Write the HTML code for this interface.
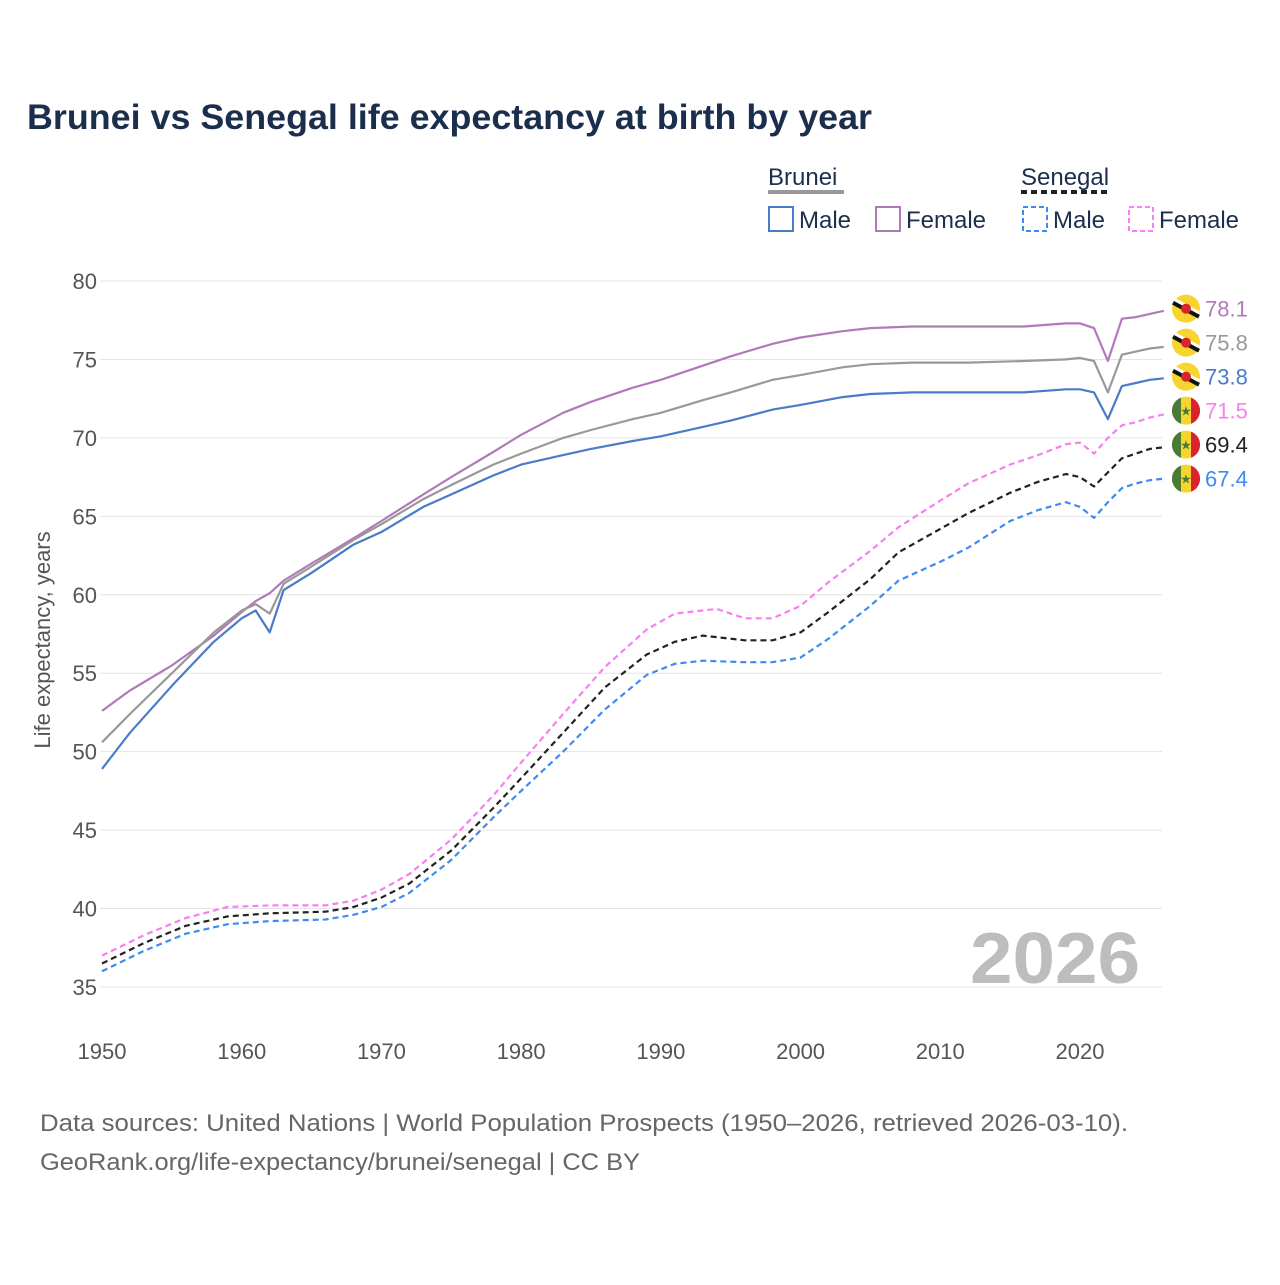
<!DOCTYPE html>
<html><head><meta charset="utf-8"><style>
body{margin:0;background:#fff;font-family:"Liberation Sans",sans-serif;}
svg text{font-family:"Liberation Sans",sans-serif;}
</style></head><body>
<svg id="c" width="1280" height="1280" xmlns="http://www.w3.org/2000/svg">
<text x="27" y="129" font-size="35" font-weight="bold" fill="#1b2f4d" textLength="845" lengthAdjust="spacingAndGlyphs">Brunei vs Senegal life expectancy at birth by year</text>
<g>
<text x="768" y="185" font-size="24" fill="#1b2f4d">Brunei</text>
<line x1="768" y1="192" x2="844" y2="192" stroke="#999" stroke-width="4"/>
<text x="1021" y="185" font-size="24" fill="#1b2f4d">Senegal</text>
<line x1="1021" y1="192" x2="1110" y2="192" stroke="#222" stroke-width="4" stroke-dasharray="6,4"/>
<rect x="769" y="207" width="24" height="24" fill="none" stroke="#4a7bc8" stroke-width="2"/>
<text x="799" y="228" font-size="24" fill="#1b2f4d">Male</text>
<rect x="876" y="207" width="24" height="24" fill="none" stroke="#b07ab8" stroke-width="2"/>
<text x="906" y="228" font-size="24" fill="#1b2f4d">Female</text>
<rect x="1023" y="207" width="24" height="24" fill="none" stroke="#3d8bf0" stroke-width="2" stroke-dasharray="5,3"/>
<text x="1053" y="228" font-size="24" fill="#1b2f4d">Male</text>
<rect x="1129" y="207" width="24" height="24" fill="none" stroke="#f77ff0" stroke-width="2" stroke-dasharray="5,3"/>
<text x="1159" y="228" font-size="24" fill="#1b2f4d">Female</text>
</g>
<text transform="translate(50,640) rotate(-90)" text-anchor="middle" font-size="22" fill="#555">Life expectancy, years</text>
<text x="970" y="983" font-size="72" font-weight="bold" fill="#bdbdbd" textLength="170" lengthAdjust="spacingAndGlyphs">2026</text>
<text x="40" y="1131" font-size="24" fill="#666" textLength="1088" lengthAdjust="spacingAndGlyphs">Data sources: United Nations | World Population Prospects (1950–2026, retrieved 2026-03-10).</text>
<text x="40" y="1170" font-size="24" fill="#666" textLength="600" lengthAdjust="spacingAndGlyphs">GeoRank.org/life-expectancy/brunei/senegal | CC BY</text>
<g id="grid"></g><g id="lines"></g><g id="ends"></g>
</svg>
<script>
const yTicks=[35,40,45,50,55,60,65,70,75,80];
const xTicks=[1950,1960,1970,1980,1990,2000,2010,2020];
const bfYears=[1950,1952,1955,1958,1960,1961,1962,1963,1965,1968,1970,1973,1975,1978,1980,1983,1985,1988,1990,1993,1995,1998,2000,2003,2005,2008,2012,2016,2019,2020,2021,2022,2023,2024,2025,2026];
const bfVals=[52.6,53.9,55.5,57.4,58.9,59.6,60.1,60.9,62.0,63.6,64.7,66.4,67.5,69.1,70.2,71.6,72.3,73.2,73.7,74.6,75.2,76.0,76.4,76.8,77.0,77.1,77.1,77.1,77.3,77.3,77.0,74.9,77.6,77.7,77.9,78.1];
const btYears=[1950,1952,1955,1958,1960,1961,1962,1963,1965,1968,1970,1973,1975,1978,1980,1983,1985,1988,1990,1993,1995,1998,2000,2003,2005,2008,2012,2016,2019,2020,2021,2022,2023,2024,2025,2026];
const btVals=[50.6,52.4,55.0,57.6,59.0,59.4,58.8,60.7,61.8,63.5,64.5,66.1,67.0,68.3,69.0,70.0,70.5,71.2,71.6,72.4,72.9,73.7,74.0,74.5,74.7,74.8,74.8,74.9,75.0,75.1,74.9,72.9,75.3,75.5,75.7,75.8];
const bmYears=[1950,1952,1955,1958,1960,1961,1962,1963,1965,1968,1970,1973,1975,1978,1980,1983,1985,1988,1990,1993,1995,1998,2000,2003,2005,2008,2012,2016,2019,2020,2021,2022,2023,2024,2025,2026];
const bmVals=[48.9,51.2,54.2,57.0,58.5,59.0,57.6,60.3,61.4,63.2,64.0,65.6,66.4,67.6,68.3,68.9,69.3,69.8,70.1,70.7,71.1,71.8,72.1,72.6,72.8,72.9,72.9,72.9,73.1,73.1,72.9,71.2,73.3,73.5,73.7,73.8];
const sfYears=[1950,1953,1956,1959,1962,1966,1968,1970,1972,1975,1978,1980,1983,1986,1989,1991,1994,1996,1998,2000,2002,2005,2007,2010,2012,2015,2017,2019,2020,2021,2022,2023,2024,2025,2026];
const sfVals=[37.0,38.3,39.4,40.1,40.2,40.2,40.5,41.2,42.2,44.4,47.2,49.3,52.4,55.4,57.8,58.8,59.1,58.5,58.5,59.3,60.8,62.8,64.3,66.0,67.1,68.3,68.9,69.6,69.7,69.0,70.0,70.8,71.0,71.3,71.5];
const stYears=[1950,1953,1956,1959,1962,1966,1968,1970,1972,1975,1978,1980,1983,1986,1989,1991,1993,1996,1998,2000,2002,2005,2007,2010,2012,2015,2017,2019,2020,2021,2022,2023,2024,2025,2026];
const stVals=[36.5,37.8,38.9,39.5,39.7,39.8,40.1,40.7,41.6,43.7,46.4,48.3,51.2,54.1,56.2,57.0,57.4,57.1,57.1,57.6,58.9,61.0,62.7,64.2,65.2,66.5,67.2,67.7,67.5,66.9,67.8,68.7,69.0,69.3,69.4];
const smYears=[1950,1953,1956,1959,1962,1966,1968,1970,1972,1975,1978,1980,1983,1986,1989,1991,1993,1996,1998,2000,2002,2005,2007,2010,2012,2015,2017,2019,2020,2021,2022,2023,2024,2025,2026];
const smVals=[36.0,37.3,38.4,39.0,39.2,39.3,39.6,40.1,41.0,43.1,45.8,47.5,50.0,52.7,54.9,55.6,55.8,55.7,55.7,56.0,57.2,59.3,60.9,62.1,63.0,64.7,65.4,65.9,65.6,64.9,65.9,66.8,67.1,67.3,67.4];
const endLabels=["78.1","75.8","73.8","71.5","69.4","67.4"];
const x=v=>102+(v-1950)*(978/70);
const y=v=>281+(80-v)*(706/45);
const NS="http://www.w3.org/2000/svg";
function mk(t,a,p){const e=document.createElementNS(NS,t);for(const k in a)e.setAttribute(k,a[k]);p.appendChild(e);return e;}
const grid=document.getElementById('grid');
yTicks.forEach(t=>{
 const l=mk('line',{x1:100,x2:1162,y1:y(t),y2:y(t),stroke:'#e4e4e4','stroke-width':1},grid);
 
 
 const tx=mk('text',{x:97,y:y(t)+8,'text-anchor':'end','font-size':22,fill:'#555'},grid);
 tx.textContent=t;
 
 
});
xTicks.forEach(t=>{
 const tx=mk('text',{x:x(t),y:1059,'text-anchor':'middle','font-size':22,fill:'#555'},grid);
 tx.textContent=t;
 
 
});
const series=[
 [bfYears,bfVals,'#b07ab8',null,'brunei-female-line'],
 [btYears,btVals,'#999999',null,'brunei-total-line'],
 [bmYears,bmVals,'#4a7bc8',null,'brunei-male-line'],
 [sfYears,sfVals,'#f77ff0','6,4','senegal-female-line'],
 [stYears,stVals,'#222222','6,4','senegal-total-line'],
 [smYears,smVals,'#3d8bf0','6,4','senegal-male-line']];
const lines=document.getElementById('lines'),ends=document.getElementById('ends');
// label positions: repel evenly from bottom
const lastY=series.map(s=>y(s[1][s[1].length-1]));
const labY=lastY.slice();
for(let i=labY.length-2;i>=0;i--){ if(labY[i]>labY[i+1]-34) labY[i]=labY[i+1]-34; }
series.forEach((s,i)=>{
 const pts=s[0].map((yr,j)=>x(yr).toFixed(1)+','+y(s[1][j]).toFixed(1)).join(' ');
 const a={points:pts,fill:'none',stroke:s[2],'stroke-width':2.2,'stroke-linejoin':'round'};
 if(s[3])a['stroke-dasharray']=s[3];
 const p=mk('polyline',a,lines);
 
 
 const cy=labY[i], cx=1186;
 const g=mk('g',{},ends);
 
 
 if(i<3){
  mk('circle',{cx:cx,cy:cy,r:14,fill:'#f7d52e'},g);
  mk('line',{x1:cx-13,y1:cy-6,x2:cx+13,y2:cy+8,stroke:'#111','stroke-width':4},g);
  mk('line',{x1:cx-13,y1:cy-10,x2:cx+13,y2:cy+4,stroke:'#fff','stroke-width':3},g);
  mk('circle',{cx:cx,cy:cy,r:5,fill:'#d9232e'},g);
 } else {
  mk('circle',{cx:cx,cy:cy,r:14,fill:'#f7d52e'},g);
  mk('path',{d:`M${cx-5} ${cy-13.1}A14 14 0 0 0 ${cx-5} ${cy+13.1}Z`,fill:'#4a7a34'},g);
  mk('path',{d:`M${cx+5} ${cy-13.1}A14 14 0 0 1 ${cx+5} ${cy+13.1}Z`,fill:'#d9232e'},g);
  const st=mk('text',{x:cx,y:cy+5,'text-anchor':'middle','font-size':13,fill:'#4a7a34'},g);
  st.textContent='★';
 }
 const t=mk('text',{x:1205,y:cy+8,'font-size':22,fill:s[2]},ends);
 t.textContent=endLabels[i];
 
 
});
</script>
</body></html>
